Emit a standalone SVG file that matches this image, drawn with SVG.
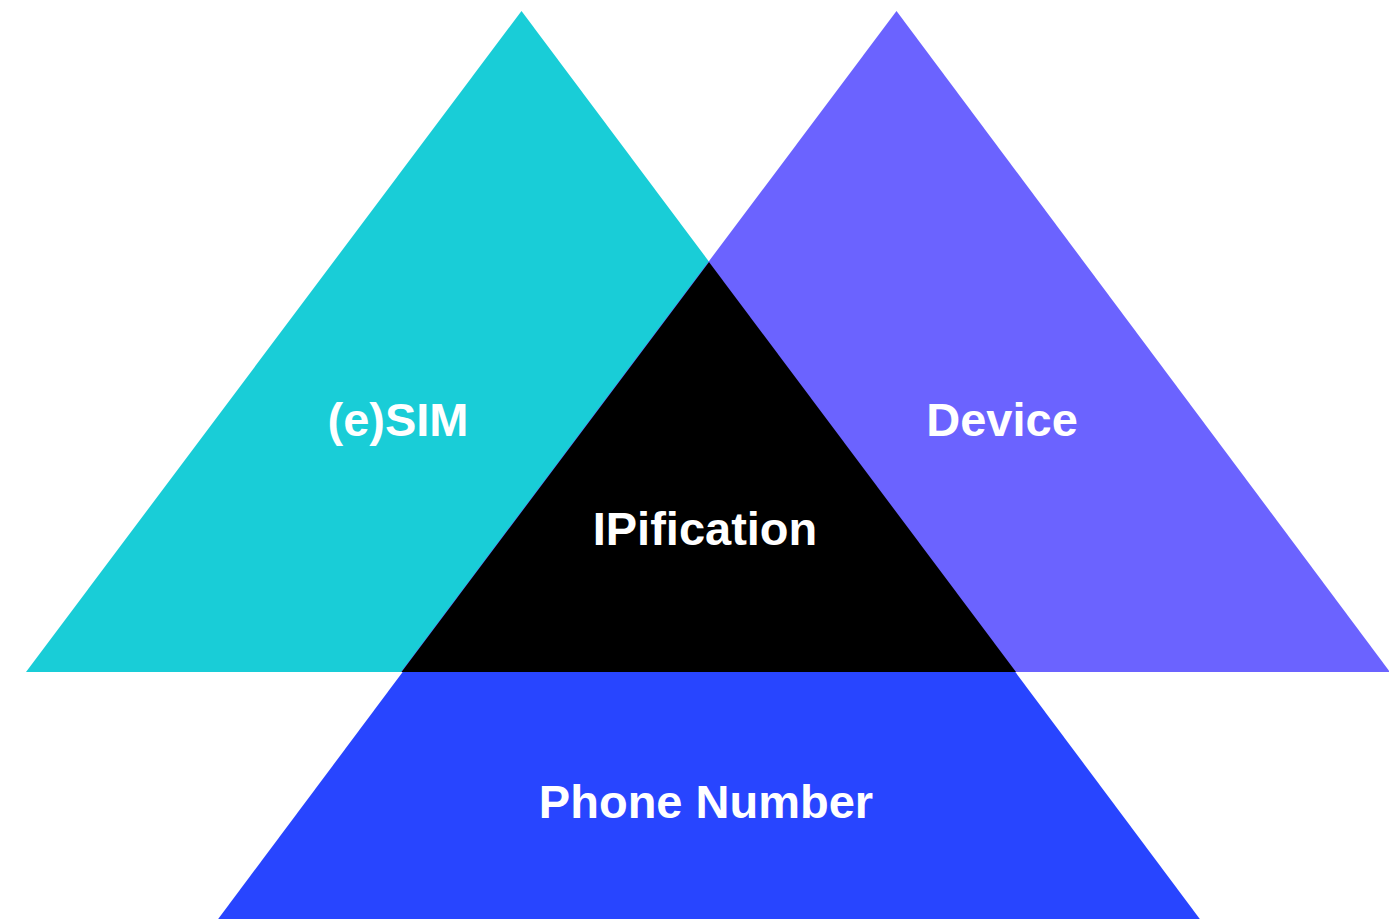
<svg xmlns="http://www.w3.org/2000/svg" width="1389" height="919" viewBox="0 0 1389 919">
<style>
.lbl{font-family:"Liberation Sans",Arial,sans-serif;font-weight:bold;font-size:47px;fill:#ffffff;text-anchor:middle}
</style>
<rect width="1389" height="919" fill="#ffffff"/>
<g id="phone-number">
<polygon points="709,262 1220,946 198,946" fill="#2845FF"/>
<text class="lbl" x="706" y="818">Phone Number</text>
</g>
<g id="esim">
<polygon points="521.5,11 1016,672 26,672" fill="#19CDD7"/>
<text class="lbl" x="398" y="436">(e)SIM</text>
</g>
<g id="device">
<polygon points="896.5,11 1390,672 401,672" fill="#6B63FF"/>
<text class="lbl" x="1002" y="436">Device</text>
</g>
<g id="ipification">
<polygon points="709,262 1016,672 401.5,672" fill="#000000"/>
<text class="lbl" x="705" y="545">IPification</text>
</g>
<g id="connectors"/>
</svg>
